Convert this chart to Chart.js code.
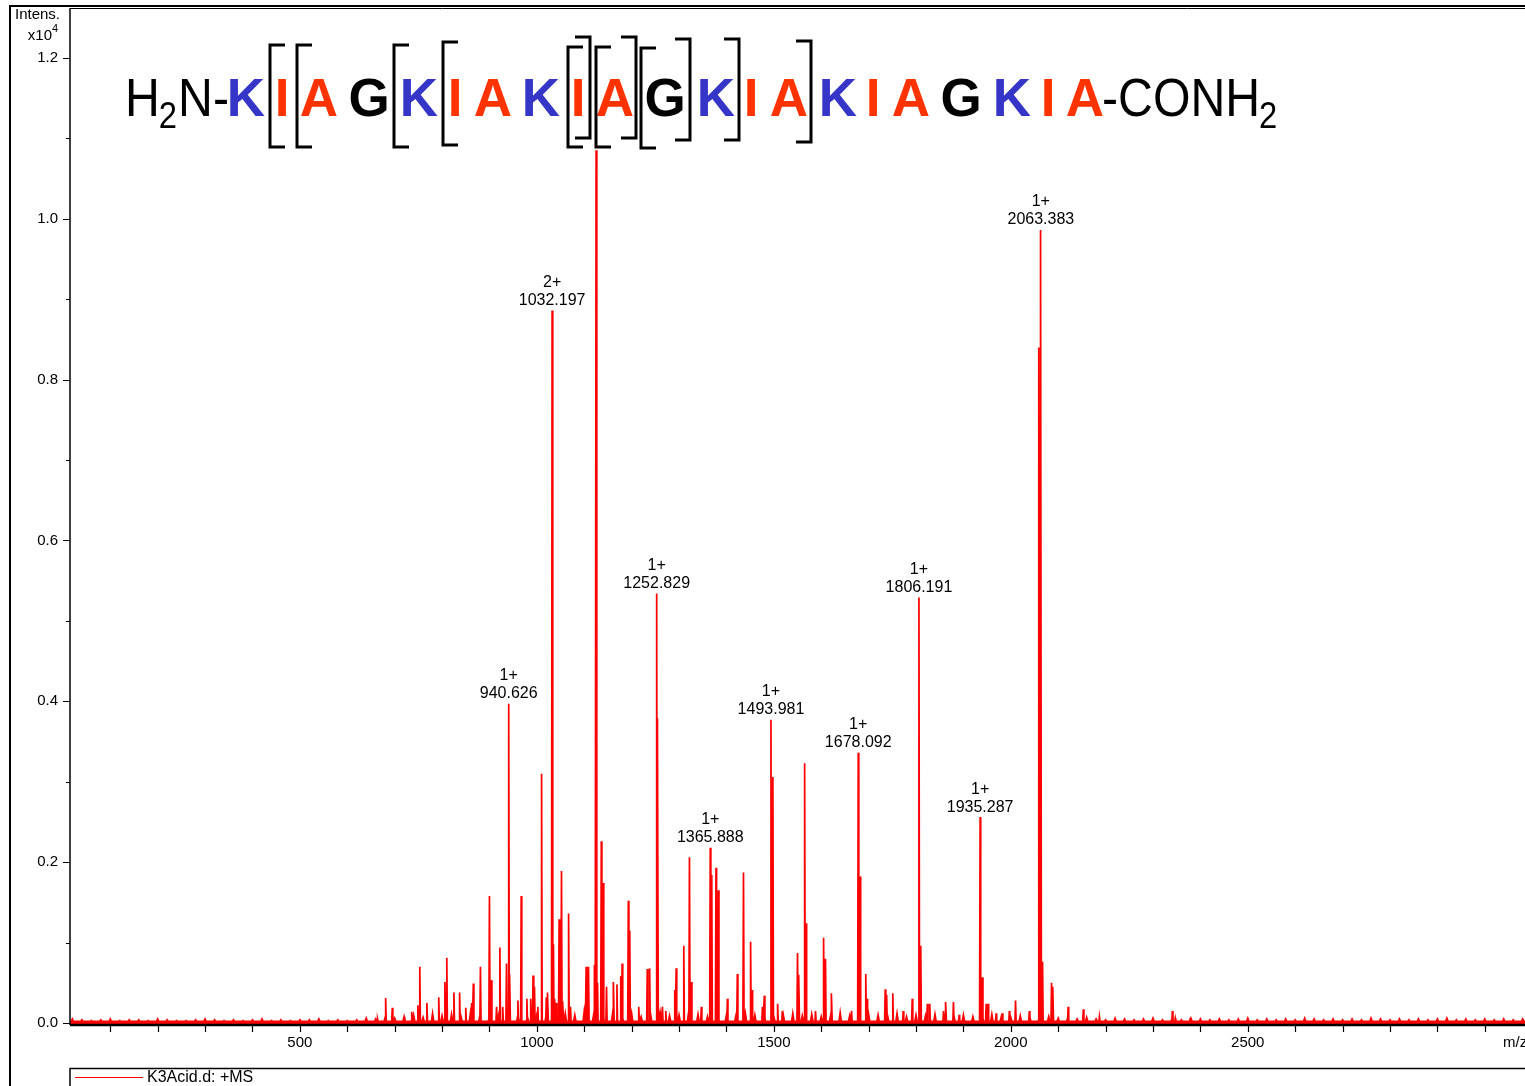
<!DOCTYPE html>
<html>
<head>
<meta charset="utf-8">
<script src="https://cdn.jsdelivr.net/npm/chart.js@4.4.1/dist/chart.umd.min.js"></script>
<style>
  html, body { margin: 0; padding: 0; background: #fff; overflow: hidden; }
  #wrap { position: absolute; left: 0; top: 0; width: 1560px; height: 1086px; }
</style>
</head>
<body>
<div id="wrap"><canvas id="spectrum"></canvas></div>
<script>
// peaks (m/z, intensity x10^4)
const peakMz = [664, 681, 695, 721, 736, 749, 753, 768, 780, 793, 806, 810, 825, 837, 850, 863, 866, 881,
  900, 904, 915, 922, 928, 936, 940.626, 943, 960, 967, 979, 987, 992, 995, 1002, 1010, 1020, 1023,
  1032.197, 1035, 1038, 1041, 1047, 1052, 1055, 1067, 1071, 1104, 1109, 1122, 1125, 1128, 1136, 1140,
  1147, 1162, 1169, 1177, 1180, 1193, 1196, 1215, 1233, 1238, 1252.829, 1255, 1265, 1272, 1291, 1294,
  1310, 1322, 1326, 1347, 1365.888, 1369, 1378, 1383, 1402, 1423, 1436, 1451, 1454, 1476, 1480,
  1493.981, 1498, 1508, 1518, 1550, 1553, 1565, 1568, 1588, 1605, 1609, 1622, 1664, 1678.092, 1682,
  1694, 1697, 1735, 1738, 1751, 1773, 1792, 1806.191, 1810, 1824, 1829, 1858, 1863, 1879, 1891,
  1935.287, 1940, 1948, 1952, 1969, 1982, 1997, 2010, 2039, 2059, 2063.383, 2067, 2086, 2089, 2121,
  2153, 2187, 2341, 2347, 2378];
const peakInt = [0.005, 0.031, 0.019, 0.008, 0.014, 0.022, 0.070, 0.025, 0.010, 0.032, 0.051, 0.081, 0.038, 0.038, 0.019, 0.025, 0.049, 0.070,
  0.158, 0.053, 0.020, 0.094, 0.020, 0.074, 0.397, 0.061, 0.028, 0.158, 0.030, 0.030, 0.059, 0.045, 0.020, 0.310, 0.032, 0.038,
  0.886, 0.098, 0.030, 0.025, 0.129, 0.189, 0.027, 0.136, 0.020, 0.070, 0.070, 0.072, 1.085, 0.050, 0.226, 0.174,
  0.045, 0.051, 0.048, 0.058, 0.074, 0.152, 0.115, 0.020, 0.067, 0.068, 0.534, 0.379, 0.020, 0.015, 0.041, 0.068,
  0.096, 0.206, 0.051, 0.020, 0.218, 0.184, 0.193, 0.165, 0.030, 0.061, 0.187, 0.101, 0.041, 0.020, 0.034,
  0.377, 0.306, 0.024, 0.015, 0.087, 0.060, 0.323, 0.124, 0.015, 0.106, 0.080, 0.037, 0.015, 0.336, 0.182,
  0.061, 0.030, 0.042, 0.035, 0.037, 0.015, 0.030, 0.529, 0.096, 0.024, 0.024, 0.015, 0.026, 0.026, 0.010,
  0.256, 0.057, 0.024, 0.024, 0.012, 0.012, 0.015, 0.028, 0.015, 0.840, 0.986, 0.076, 0.050, 0.045, 0.020,
  0.017, 0.008, 0.015, 0.006, 0.006];

// baseline grass, one value every 20 m/z starting at 20
const noiseStart = 20;
const noiseStep = 20;
const noiseInt = [5,4,3,4,5,3,4,4,3,5,4,3,3,4,5,4,3,4,3,4,5,3,4,3,4,4,5,3,4,3,
  4,6,5,7,6,
  8,10,7,12,9,11,8,13,10,9,12,14,10,8,11,13,9,12,10,15,11,9,13,10,12,8,11,14,9,10,12,11,8,13,10,9,12,10,11,8,
  10,12,9,11,8,10,13,9,8,11,10,9,12,8,10,9,11,8,9,10,8,9,11,8,7,9,8,7,8,6,
  6,5,7,5,4,6,5,4,5,6,4,5,4,6,5,4,5,4,5,6,4,5,4,5,4,6,5,4,5,4,5,4,6,5,4,5,4,5,4,5,6,4,5,4,5,4,5,4,5,4]
  .map(v => v / 1000);

// annotated peaks
const labelMz = [940.626, 1032.197, 1252.829, 1365.888, 1493.981, 1678.092, 1806.191, 1935.287, 2063.383];
const labelCharge = ['1+', '2+', '1+', '1+', '1+', '1+', '1+', '1+', '1+'];

const xTicks = [];
for (let t = 100; t <= 3100; t += 100) xTicks.push(t);
const xLabels = [500, 1000, 1500, 2000, 2500];
const yTicks = [0, 0.1, 0.2, 0.3, 0.4, 0.5, 0.6, 0.7, 0.8, 0.9, 1.0, 1.1, 1.2];

// build the profile as narrow sticks
const base = 0.002;
const sticks = [];
peakMz.forEach((m, i) => sticks.push([m, peakInt[i], 1.2]));
noiseInt.forEach((v, i) => sticks.push([noiseStart + i * noiseStep, v, 2.5]));
sticks.sort((a, b) => a[0] - b[0]);
const profile = [{x: 15, y: base}];
sticks.forEach(([m, h, w]) => {
  profile.push({x: m - w, y: base}, {x: m, y: h}, {x: m + w, y: base});
});
profile.push({x: 3106, y: base});

const FONT = '"Liberation Sans", Arial, sans-serif';

const decor = {
  id: 'decor',
  afterDatasetsDraw(chart) {
    const ctx = chart.ctx;
    const xs = chart.scales.x, ys = chart.scales.y;
    const a = chart.chartArea;
    ctx.save();
    ctx.strokeStyle = '#000';
    ctx.fillStyle = '#000';

    // frames
    ctx.lineWidth = 2;
    ctx.beginPath();
    ctx.moveTo(10, 1086); ctx.lineTo(10, 6); ctx.lineTo(1560, 6);
    ctx.stroke();
    ctx.lineWidth = 1;
    ctx.beginPath();
    ctx.moveTo(a.left, 8.5); ctx.lineTo(1560, 8.5);
    ctx.stroke();
    ctx.lineWidth = 1.5;
    ctx.beginPath();
    ctx.moveTo(a.left, 8); ctx.lineTo(a.left, a.bottom);
    ctx.stroke();
    ctx.lineWidth = 2.5;
    ctx.beginPath();
    ctx.moveTo(a.left, a.bottom); ctx.lineTo(1560, a.bottom);
    ctx.stroke();

    // tick marks
    ctx.lineWidth = 1.2;
    ctx.beginPath();
    xTicks.forEach(t => {
      const px = Math.round(xs.getPixelForValue(t)) + 0.5;
      ctx.moveTo(px, a.bottom); ctx.lineTo(px, a.bottom + 7);
    });
    yTicks.forEach((t, i) => {
      const py = Math.round(ys.getPixelForValue(t)) + 0.5;
      ctx.moveTo(a.left, py); ctx.lineTo(a.left - (i % 2 === 0 ? 7 : 4), py);
    });
    ctx.stroke();

    // tick labels
    ctx.font = '15px ' + FONT;
    ctx.textBaseline = 'middle';
    ctx.textAlign = 'center';
    xLabels.forEach(t => ctx.fillText(String(t), xs.getPixelForValue(t), 1043));
    ctx.textAlign = 'right';
    yTicks.forEach((t, i) => {
      if (i % 2 === 0) ctx.fillText(t.toFixed(1), 58, ys.getPixelForValue(t));
    });

    // axis captions
    ctx.textAlign = 'left';
    ctx.fillText('m/z', 1503, 1043);
    ctx.fillText('Intens.', 15, 15);
    ctx.textAlign = 'right';
    ctx.fillText('x10', 52, 36);
    ctx.font = '11px ' + FONT;
    ctx.textAlign = 'left';
    ctx.fillText('4', 52, 29);

    // legend box
    ctx.lineWidth = 1.5;
    ctx.beginPath();
    ctx.moveTo(a.left, 1086); ctx.lineTo(a.left, 1068.5); ctx.lineTo(1560, 1068.5);
    ctx.stroke();
    ctx.strokeStyle = '#ff0000';
    ctx.lineWidth = 1;
    ctx.beginPath();
    ctx.moveTo(75, 1077.5); ctx.lineTo(143, 1077.5);
    ctx.stroke();
    ctx.font = '16px ' + FONT;
    ctx.fillText('K3Acid.d: +MS', 147, 1078);

    // peak annotations
    ctx.textAlign = 'center';
    labelMz.forEach((m, i) => {
      const h = peakInt[peakMz.indexOf(m)];
      const px = xs.getPixelForValue(m);
      const py = ys.getPixelForValue(h);
      ctx.fillText(m.toFixed(3), px, py - 10);
      ctx.fillText(labelCharge[i], px, py - 28);
    });

    drawSequence(ctx);
    ctx.restore();
  }
};

// plain (non-bold) text squeezed a little horizontally
function narrowText(ctx, txt, x, y, size) {
  ctx.save();
  ctx.font = size + 'px ' + FONT;
  ctx.translate(x, y);
  ctx.scale(0.91, 1);
  ctx.fillText(txt, 0, 0);
  const w = ctx.measureText(txt).width * 0.91;
  ctx.restore();
  return w;
}

function drawSequence(ctx) {
  const blue = '#3535c8', red = '#ff3300';
  const base = 116;
  ctx.textBaseline = 'alphabetic';
  ctx.textAlign = 'left';
  ctx.fillStyle = '#000';
  // N-terminus
  let x = 125;
  x += narrowText(ctx, 'H', x, base, 53);
  x += narrowText(ctx, '2', x - 1, base + 12, 36) - 1;
  narrowText(ctx, 'N-', x + 1, base, 53);

  const seq = 'KIAGKIAKIAGKIAKIAGKIA';
  const centers = [246, 282, 319, 369, 419, 455, 493, 541, 578, 615, 665, 716, 751, 789, 838, 873, 911, 961, 1012, 1048, 1085];
  ctx.font = 'bold 53px ' + FONT;
  ctx.textAlign = 'center';
  for (let i = 0; i < seq.length; i++) {
    const c = seq[i];
    ctx.fillStyle = c === 'K' ? blue : (c === 'G' ? '#000' : red);
    ctx.fillText(c, centers[i], base);
  }
  // C-terminus
  ctx.textAlign = 'left';
  ctx.fillStyle = '#000';
  x = 1102;
  x += narrowText(ctx, '-CONH', x, base, 53);
  narrowText(ctx, '2', x - 1, base + 12, 36);

  // fragment brackets
  ctx.strokeStyle = '#000';
  ctx.lineWidth = 3;
  const openB = [[270, 45, 147], [297, 45, 147], [394, 45, 147], [443, 42, 145], [568, 47, 147], [596, 47, 147], [641, 48, 148]];
  const closeB = [[590, 37, 138], [636, 37, 138], [690, 39, 140], [739, 39, 140], [811, 41, 142]];
  ctx.beginPath();
  openB.forEach(([bx, t, b]) => {
    ctx.moveTo(bx + 15, t); ctx.lineTo(bx, t); ctx.lineTo(bx, b); ctx.lineTo(bx + 15, b);
  });
  closeB.forEach(([bx, t, b]) => {
    ctx.moveTo(bx - 15, t); ctx.lineTo(bx, t); ctx.lineTo(bx, b); ctx.lineTo(bx - 15, b);
  });
  ctx.stroke();
}

const canvas = document.getElementById('spectrum');
canvas.width = 1560;
canvas.height = 1086;

new Chart(canvas, {
  type: 'line',
  data: {
    datasets: [{
      label: 'K3Acid.d: +MS',
      data: profile,
      borderColor: '#ff0000',
      backgroundColor: '#ff0000',
      borderWidth: 1.7,
      pointRadius: 0,
      tension: 0,
      fill: 'start'
    }]
  },
  options: {
    responsive: false,
    animation: false,
    events: [],
    layout: { padding: { left: 10, top: 8, right: 25, bottom: 0 } },
    plugins: {
      legend: { display: false },
      tooltip: { enabled: false }
    },
    scales: {
      x: {
        type: 'linear',
        min: 15,
        max: 3106,
        grid: { display: false },
        border: { display: false },
        ticks: { display: false },
        afterFit: s => { s.height = 61; }
      },
      y: {
        min: -0.0025,
        max: 1.262,
        grid: { display: false },
        border: { display: false },
        ticks: { display: false },
        afterFit: s => { s.width = 60; }
      }
    }
  },
  plugins: [decor]
});
</script>
</body>
</html>
